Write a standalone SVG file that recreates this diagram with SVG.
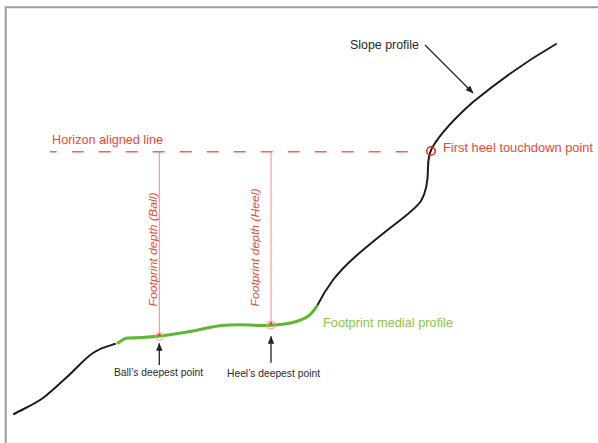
<svg xmlns="http://www.w3.org/2000/svg" width="598" height="443" viewBox="0 0 598 443">
<style>
  .t { font-family: "Liberation Sans", Arial, sans-serif; }
  .red { fill: #ee4631; }
  .blk { fill: #2a2a2a; }
  .slope { fill: none; stroke: #1c1c1c; stroke-width: 2; stroke-linecap: round; stroke-linejoin: round; }
  .foot { fill: none; stroke: #5cb82e; stroke-width: 3; stroke-linecap: round; }
  .vline { stroke: #f26a5a; stroke-width: 0.8; }
  .arr { stroke: #222; stroke-width: 1.3; fill: none; }
</style>
<defs>
  <marker id="ah" viewBox="0 0 10 8" refX="9" refY="4" markerWidth="8" markerHeight="7" markerUnits="userSpaceOnUse" orient="auto">
    <path d="M0,0 L10,4 L0,8 z" fill="#222"/>
  </marker>
</defs>
<rect width="598" height="443" fill="#ffffff"/>
<path d="M5.7,443 V7.3 H598" fill="none" stroke="#9c9c9c" stroke-width="2"/>

<g id="slope-profile">
  <path class="slope" d="M14,414 C25,408 35,404 43,398 S58,385 67,377 S84,359 93,353 S108,346 115,344"/>
  <path class="slope" d="M317,306 C322,296 327,288 333,280 C345,264 365,248 385,232 C400,220 415,210 421,201 C427,191 428,180 428,168 C428,160 429,154 432,148 C440,134 455,118 473,102 C495,84 525,62 556,44"/>
  <text class="t blk" x="350" y="49" font-size="13" textLength="69" lengthAdjust="spacingAndGlyphs">Slope profile</text>
</g>

<g id="footprint-medial-profile">
  <path class="foot" d="M118,343 C121,341 124,338 128,338 S150,337 160,336 S195,331 207,328 S232,324 250,325 S286,325 298,321 S312,313 317,306"/>
  <text class="t" x="323" y="327" font-size="13" fill="#8cc63f" textLength="130" lengthAdjust="spacingAndGlyphs">Footprint medial profile</text>
</g>

<g id="horizon-line">
  <path d="M50,151.7 H419" fill="none" stroke="#f26649" stroke-width="1.5" stroke-dasharray="12 15" stroke-dashoffset="5.3"/>
  <text class="t red" x="52" y="144" font-size="13" textLength="111" lengthAdjust="spacingAndGlyphs">Horizon aligned line</text>
</g>

<g id="touchdown-point">
  <circle cx="431" cy="151" r="4.3" fill="none" stroke="#e52d1f" stroke-width="1.6"/>
  <text class="t red" x="443" y="152" font-size="13" textLength="150" lengthAdjust="spacingAndGlyphs">First heel touchdown point</text>
</g>

<g id="ball-depth">
  <line class="vline" x1="159.3" y1="151.7" x2="159.3" y2="334.5"/>
  <circle cx="159.3" cy="336.5" r="4" fill="none" stroke="#f7a48c" stroke-width="1"/>
  <circle cx="159.3" cy="335" r="1.4" fill="#e8412c"/>
  <text class="t red" transform="translate(156.5,306.5) rotate(-90)" font-size="11.5" font-style="italic" textLength="114" lengthAdjust="spacingAndGlyphs">Footprint depth (Ball)</text>
</g>

<g id="heel-depth">
  <line class="vline" x1="271" y1="151.7" x2="271" y2="323.5"/>
  <circle cx="271" cy="325" r="4" fill="none" stroke="#f7a48c" stroke-width="1"/>
  <circle cx="271" cy="323.5" r="1.4" fill="#e8412c"/>
  <text class="t red" transform="translate(258.5,306.5) rotate(-90)" font-size="11.5" font-style="italic" textLength="118" lengthAdjust="spacingAndGlyphs">Footprint depth (Heel)</text>
</g>

<g id="ball-deepest">
  <text class="t blk" x="114" y="375.7" font-size="10.5" textLength="89" lengthAdjust="spacingAndGlyphs">Ball’s deepest point</text>
</g>

<g id="heel-deepest">
  <text class="t blk" x="227" y="377" font-size="10.5" textLength="93" lengthAdjust="spacingAndGlyphs">Heel’s deepest point</text>
</g>

<g id="connectors">
  <line class="arr" x1="425" y1="45" x2="473" y2="93" marker-end="url(#ah)"/>
  <line class="arr" x1="159.3" y1="365" x2="159.3" y2="343.5" marker-end="url(#ah)"/>
  <line class="arr" x1="271" y1="362.7" x2="271" y2="336.5" marker-end="url(#ah)"/>
</g>
</svg>
